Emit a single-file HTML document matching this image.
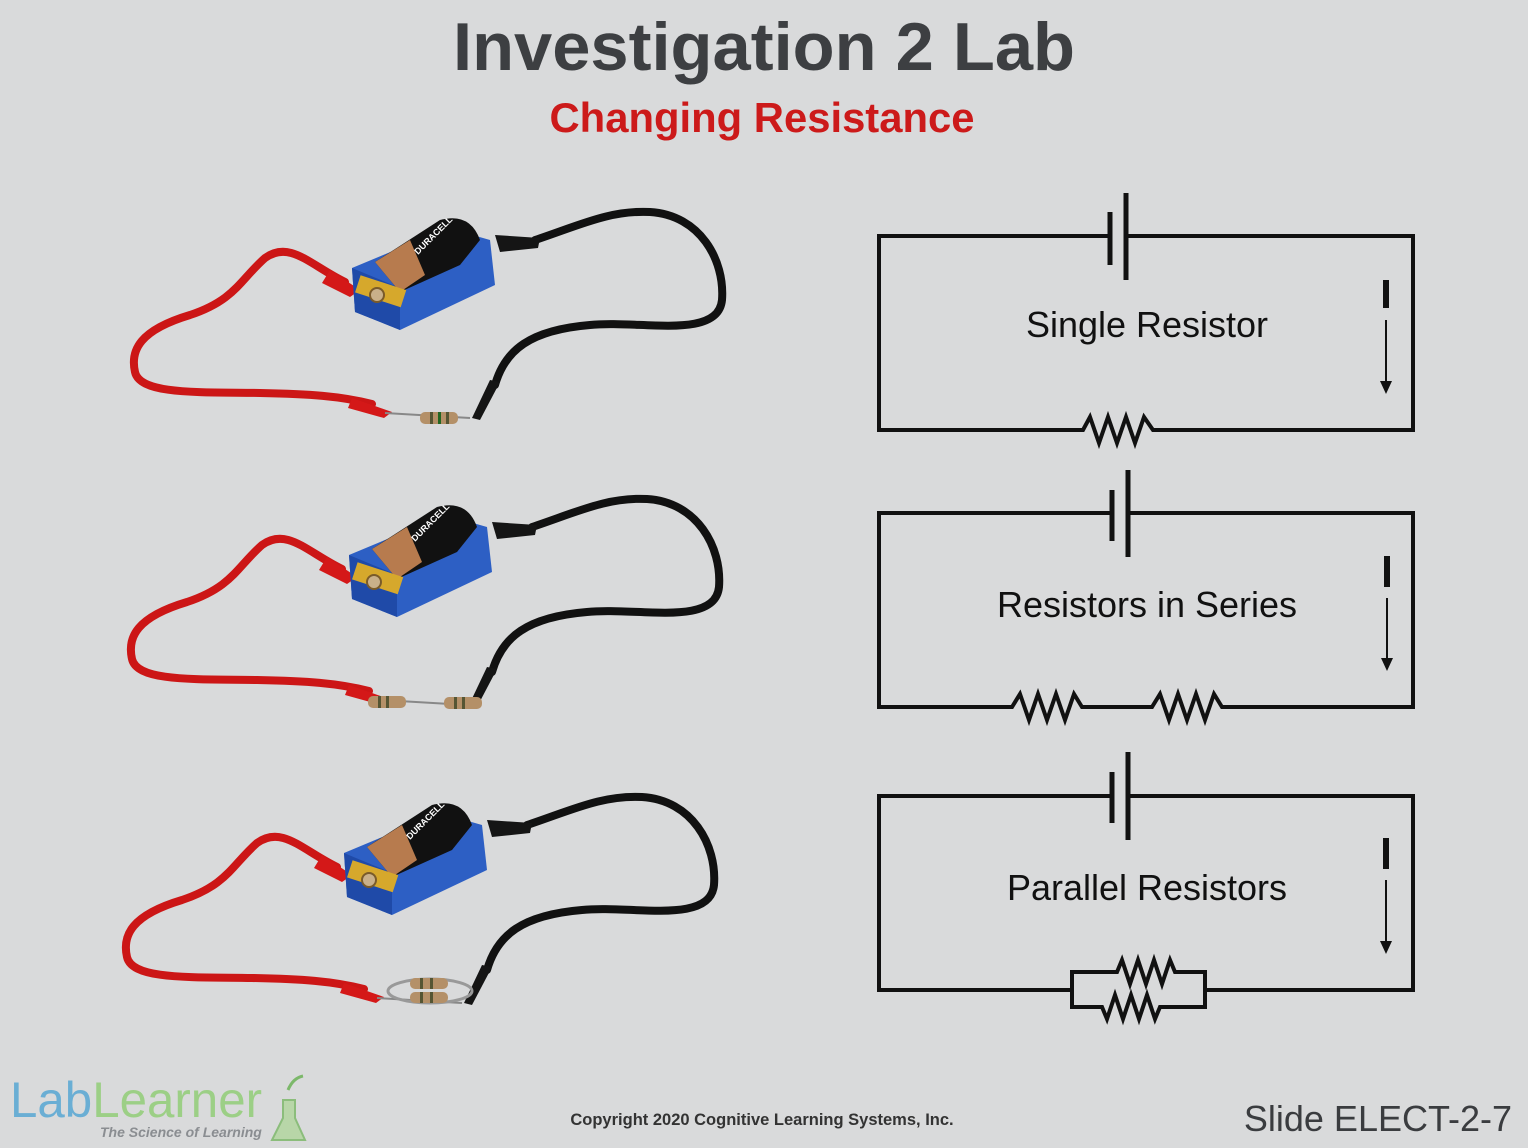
<!DOCTYPE html>
<html><head><style>
body{margin:0;background:#d9dadb;}
svg{display:block}
text{font-family:"Liberation Sans",Arial,sans-serif}
</style></head><body>
<svg width="1528" height="1148" viewBox="0 0 1528 1148" xmlns="http://www.w3.org/2000/svg">
<rect width="1528" height="1148" fill="#d9dadb"/>
<text x="764" y="70" text-anchor="middle" font-size="68" font-weight="bold" fill="#3d3f42" textLength="622" lengthAdjust="spacingAndGlyphs">Investigation 2 Lab</text>
<text x="762" y="132" text-anchor="middle" font-size="42" font-weight="bold" fill="#cc1a1a" textLength="425" lengthAdjust="spacingAndGlyphs">Changing Resistance</text>

<defs>
<g id="bat">
  <path d="M345,282 C310,265 290,240 265,258 C240,280 235,300 190,315 C140,330 130,350 135,372 C140,395 200,392 260,393 C310,394 340,396 372,404" fill="none" stroke="#cc1616" stroke-width="8" stroke-linecap="round"/>
  <path d="M330,270 L360,290 L350,297 L322,283Z" fill="#d41818"/>
  <path d="M352,398 L392,412 L384,418 L348,408Z" fill="#d41818"/>
  <line x1="385" y1="413" x2="470" y2="418" stroke="#888" stroke-width="2"/>
  <path d="M535,240 C580,225 610,210 650,212 C700,215 725,260 722,300 C718,340 640,320 590,325 C530,330 505,350 495,385" fill="none" stroke="#111" stroke-width="8" stroke-linecap="round"/>
  <path d="M495,235 L540,238 L538,248 L500,252Z" fill="#151515"/>
  <path d="M490,380 L500,382 L480,420 L472,418Z" fill="#151515"/>
  <path d="M352,268 L448,228 L490,240 L495,285 L400,330 L355,312Z" fill="#2d5fc4"/>
  <path d="M352,268 L400,288 L400,330 L355,312Z" fill="#1f4aa8"/>
  <path d="M375,262 L440,220 Q470,212 480,240 L460,265 L400,292Z" fill="#111"/>
  <path d="M375,262 L410,240 L425,275 L400,292Z" fill="#b77b4e"/>
  <text x="0" y="0" font-size="9" font-weight="bold" fill="#fff" transform="translate(418,255) rotate(-45)">DURACELL</text>
  <rect x="357" y="282" width="48" height="18" fill="#d6a82c" transform="rotate(18 380 290)"/>
  <circle cx="377" cy="295" r="7" fill="#c9b08a" stroke="#7a5b2a" stroke-width="2"/>
</g>
</defs>
<use href="#bat"/>
<g transform="translate(420,418)"><rect x="0" y="-6" width="38" height="12" rx="5" fill="#b49068"/><rect x="10" y="-6" width="3" height="12" fill="#553"/><rect x="18" y="-6" width="3" height="12" fill="#262"/><rect x="26" y="-6" width="3" height="12" fill="#553"/></g>

<use href="#bat" transform="translate(-3,287)"/>
<g transform="translate(368,702)"><rect x="0" y="-6" width="38" height="12" rx="5" fill="#b49068"/><rect x="10" y="-6" width="3" height="12" fill="#553"/><rect x="18" y="-6" width="3" height="12" fill="#553"/></g>
<g transform="translate(444,703)"><rect x="0" y="-6" width="38" height="12" rx="5" fill="#b49068"/><rect x="10" y="-6" width="3" height="12" fill="#553"/><rect x="18" y="-6" width="3" height="12" fill="#553"/></g>

<use href="#bat" transform="translate(-8,585)"/>
<ellipse cx="430" cy="991" rx="42" ry="12" fill="none" stroke="#999" stroke-width="3"/>
<g transform="translate(410,984)"><rect x="0" y="-6" width="38" height="11" rx="5" fill="#b49068"/><rect x="10" y="-6" width="3" height="11" fill="#553"/><rect x="20" y="-6" width="3" height="11" fill="#553"/></g>
<g transform="translate(410,998)"><rect x="0" y="-6" width="38" height="11" rx="5" fill="#b49068"/><rect x="10" y="-6" width="3" height="11" fill="#553"/><rect x="20" y="-6" width="3" height="11" fill="#553"/></g>

<g fill="none" stroke="#111" stroke-width="4" stroke-linejoin="miter">
  <path d="M1110,236 H879 V430 H1083 l7,-13 l9,26 l9,-26 l9,26 l9,-26 l9,26 l9,-26 l9,13 H1413 V236 H1126"/>
  <line x1="1110" y1="212" x2="1110" y2="265" stroke-width="5"/>
  <line x1="1126" y1="193" x2="1126" y2="280" stroke-width="5"/>

  <path d="M1112,513 H879 V707 H1012 l8,-13 l9,26 l9,-26 l9,26 l9,-26 l9,26 l9,-26 l8,13 H1152 l8,-13 l9,26 l9,-26 l9,26 l9,-26 l9,26 l9,-26 l8,13 H1413 V513 H1128"/>
  <line x1="1112" y1="490" x2="1112" y2="541" stroke-width="5"/>
  <line x1="1128" y1="470" x2="1128" y2="557" stroke-width="5"/>

  <path d="M1112,796 H879 V990 H1072 M1205,990 H1413 V796 H1128"/>
  <path d="M1072,972 V1007 H1102 l5,12 l8,-24 l8,24 l8,-24 l8,24 l8,-24 l8,24 l5,-12 H1205 V972 H1175 l-5,-12 l-8,24 l-8,-24 l-8,24 l-8,-24 l-8,24 l-8,-24 l-5,12 Z"/>
  <line x1="1112" y1="772" x2="1112" y2="823" stroke-width="5"/>
  <line x1="1128" y1="752" x2="1128" y2="840" stroke-width="5"/>
</g>
<g stroke="#111">
  <line x1="1386" y1="280" x2="1386" y2="308" stroke-width="6"/>
  <line x1="1386" y1="320" x2="1386" y2="385" stroke-width="2"/>
  <line x1="1387" y1="556" x2="1387" y2="587" stroke-width="6"/>
  <line x1="1387" y1="598" x2="1387" y2="662" stroke-width="2"/>
  <line x1="1386" y1="838" x2="1386" y2="869" stroke-width="6"/>
  <line x1="1386" y1="880" x2="1386" y2="945" stroke-width="2"/>
</g>
<g fill="#111">
  <path d="M1380,381 L1392,381 L1386,394Z"/>
  <path d="M1381,658 L1393,658 L1387,671Z"/>
  <path d="M1380,941 L1392,941 L1386,954Z"/>
</g>
<text x="1147" y="337" text-anchor="middle" font-size="36" fill="#111">Single Resistor</text>
<text x="1147" y="617" text-anchor="middle" font-size="36" fill="#111">Resistors in Series</text>
<text x="1147" y="900" text-anchor="middle" font-size="36" fill="#111">Parallel Resistors</text>

<text x="10" y="1117" font-size="50" fill="#6aaed4" textLength="252" lengthAdjust="spacingAndGlyphs">Lab<tspan fill="#9ccf86">Learner</tspan></text>
<text x="100" y="1137" font-size="14" font-style="italic" font-weight="bold" fill="#8a8d91">The Science of Learning</text>
<path d="M283,1100 L295,1100 L295,1118 L305,1140 L272,1140 L283,1118Z" fill="#b8d6a8" stroke="#8bbd7b" stroke-width="2"/>
<path d="M288,1090 q5,-12 15,-14" stroke="#7cb86a" stroke-width="3" fill="none"/>
<text x="762" y="1125" text-anchor="middle" font-size="16.5" font-weight="bold" fill="#333">Copyright 2020 Cognitive Learning Systems, Inc.</text>
<text x="1512" y="1131" text-anchor="end" font-size="36" fill="#3a3c3f">Slide ELECT-2-7</text>
</svg>
</body></html>
